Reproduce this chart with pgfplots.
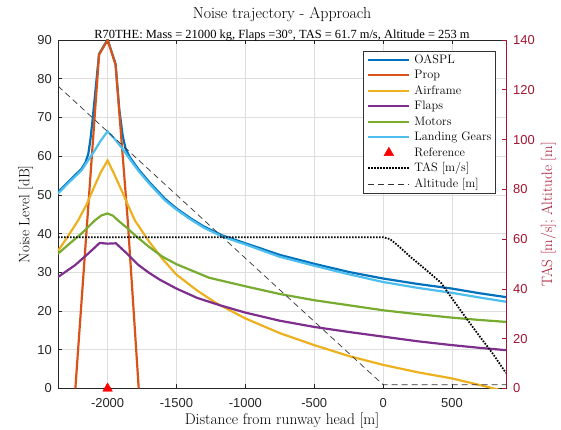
\documentclass[border=0pt]{standalone}
\usepackage{fontspec}
\setsansfont{Liberation Sans}
\newfontfamily\subfont{Liberation Serif}
\usepackage{pgfplots}
\pgfplotsset{compat=1.18}

\definecolor{mblue}{rgb}{0,0.447,0.741}
\definecolor{morange}{rgb}{0.850,0.325,0.098}
\definecolor{myellow}{rgb}{0.929,0.694,0.125}
\definecolor{mpurple}{rgb}{0.494,0.184,0.556}
\definecolor{mgreen}{rgb}{0.466,0.674,0.188}
\definecolor{mcyan}{rgb}{0.301,0.745,0.933}
\definecolor{mred}{rgb}{0.635,0.078,0.184}
\definecolor{axgray}{rgb}{0.15,0.15,0.15}

\pgfplotsset{
  mbase/.style={
    scale only axis, width=448bp, height=348.5bp,
    at={(0bp,0bp)}, anchor=south west,
    xmin=-2360, xmax=892,
    /pgf/number format/assume math mode=true,
    /pgf/number format/1000 sep={},
    tick label style={font=\sffamily\fontsize{13}{15}\selectfont},
    tick align=inside, major tick length=4.5bp,
    label style={font=\fontsize{15}{17}\selectfont},
  },
  curve/.style={line width=2.2bp, #1},
}

\begin{document}
\begin{tikzpicture}
\path[use as bounding box] (-58bp,-41.5bp) rectangle (503bp,388.5bp);

% left axis: noise levels
\begin{axis}[mbase,
  ymin=0, ymax=90, ytick={0,10,...,90},
  xtick={-2000,-1500,...,500}, ytick pos=left,
  grid=major, grid style={black!13, line width=0.6bp},
  axis line style={draw=axgray, line width=0.8bp},
  every tick/.style={axgray, line width=0.6bp},
  tick label style={axgray},
  yticklabel style={anchor=east, inner sep=0pt, xshift=-6bp},
  xticklabel style={anchor=north, inner sep=0pt, yshift=-9.5bp},
  xlabel={Distance from runway head [m]},
  xlabel style={at={(axis description cs:0.5,-0.1027)}, anchor=base,
    font=\fontsize{15.5}{17}\selectfont},
  ylabel={Noise Level [dB]},
  ylabel style={at={(axis description cs:-0.064,0.5)}, anchor=base},
]
\addplot[curve=mblue] coordinates {
 (-2360,50.7) (-2290,53.2) (-2190,56.7) (-2160,58.4) (-2140,60.6) (-2125,64.2)
 (-2110,69) (-2062,86.4) (-2000,90.1) (-1942,83.8) (-1915,72) (-1890,65.2)
 (-1870,62) (-1840,59.8) (-1778,56.7) (-1700,53.4) (-1584,49) (-1500,46.5)
 (-1400,44) (-1300,41.8) (-1165,39.5) (-1000,37.5) (-750,34.5) (-500,32.2)
 (-250,30.1) (0,28.4) (250,27) (500,25.8) (700,24.6) (892,23.6)};
\addplot[curve=morange] coordinates {
 (-2234,0) (-2062,86.2) (-2000,90) (-1942,83.6) (-1855,44) (-1774,0)};
\addplot[curve=myellow] coordinates {
 (-2360,35.5) (-2290,39.2) (-2214,43.4) (-2150,47.7) (-2093,52.4) (-2050,55.8)
 (-2000,58.9) (-1950,55.2) (-1899,51.2) (-1850,47.2) (-1802,43.4) (-1700,38)
 (-1600,33.4) (-1500,29.4) (-1350,25.3) (-1209,22) (-1000,18.1) (-750,14.3)
 (-500,11.2) (-250,8.4) (0,6.1) (250,4.2) (500,2.6) (748,0.5) (892,-0.8)};
\addplot[curve=mpurple] coordinates {
 (-2360,28.8) (-2238,31.8) (-2142,34.8) (-2057,37.6) (-2000,37.4) (-1940,37.5)
 (-1870,35.2) (-1780,32) (-1700,29.9) (-1621,28.1) (-1500,25.8) (-1350,23.4)
 (-1185,21.5) (-1000,19.6) (-750,17.5) (-500,15.9) (-250,14.6) (0,13.4)
 (250,12.2) (500,11.2) (700,10.5) (892,9.9)};
\addplot[curve=mgreen] coordinates {
 (-2360,34.8) (-2280,37.3) (-2190,40) (-2093,43.4) (-2045,44.7) (-2000,45.2)
 (-1960,44.6) (-1924,43.4) (-1860,41.5) (-1802,39.6) (-1700,36.6) (-1600,34)
 (-1500,32.1) (-1263,28.6) (-1000,26.4) (-750,24.4) (-500,22.8) (-250,21.5)
 (0,20.2) (250,19.2) (500,18.3) (700,17.7) (892,17.2)};
\addplot[curve=mcyan] coordinates {
 (-2360,50.3) (-2290,52.9) (-2190,56.3) (-2093,61.5) (-2050,64) (-2000,66.4)
 (-1950,64.5) (-1900,62.3) (-1840,59.3) (-1778,56.3) (-1700,53) (-1584,48.6)
 (-1500,46.2) (-1400,43.7) (-1300,41.5) (-1165,39.2) (-1000,37.2) (-750,34)
 (-500,31.7) (-250,29.5) (0,27.5) (250,26) (500,24.7) (700,23.5) (892,22.4)};
\addplot[only marks, mark=triangle*, mark size=5.6bp, red,
  mark options={fill=red, draw=red}] coordinates {(-2000,0)};
\end{axis}

% right axis: speed and altitude
\begin{axis}[mbase,
  ymin=0, ymax=140, ytick={0,20,...,140},
  axis x line=none, axis y line*=right,
  y axis line style={draw=mred, line width=0.8bp},
  ytick style={mred, line width=0.6bp},
  yticklabel style={mred, anchor=west, inner sep=0pt, xshift=7bp},
  ylabel={TAS [m/s]; Altitude [m]},
  ylabel style={mred, at={(axis description cs:1.1027,0.5)}, anchor=base},
  legend image code/.code={\draw[mark repeat=2, mark phase=2, #1]
    plot coordinates {(0bp,0bp) (20.5bp,0bp) (41bp,0bp)};},
  legend cell align=left,
  legend style={at={(axis description cs:1,1)}, anchor=north east,
    xshift=-10.3bp, yshift=-10.7bp, draw=black!80, line width=0.5bp,
    fill=white, font=\fontsize{12.3}{14}\selectfont,
    inner xsep=4bp, inner ysep=1.2bp, row sep=0pt,
    nodes={inner sep=0pt, text height=11bp, text depth=4.5bp},
    /tikz/every odd column/.append style={column sep=4bp}},
]
\addlegendimage{curve=mblue}
\addlegendentry{OASPL}
\addlegendimage{curve=morange}
\addlegendentry{Prop}
\addlegendimage{curve=myellow}
\addlegendentry{Airframe}
\addlegendimage{curve=mpurple}
\addlegendentry{Flaps}
\addlegendimage{curve=mgreen}
\addlegendentry{Motors}
\addlegendimage{curve=mcyan}
\addlegendentry{Landing Gears}
\addlegendimage{only marks, mark=triangle*, mark size=5.6bp, red, mark options={fill=red, draw=red}}
\addlegendentry{Reference}
\addplot[black, line width=1.8bp, dash pattern=on 1.6bp off 1.4bp] coordinates {
 (-2360,60.8) (0,60.8) (50,60) (100,57.8) (200,52.8) (315,47.5) (420,42.5)
 (500,36.2) (600,28.5) (700,21) (800,13.7) (892,6.2)};
\addlegendentry{TAS [m/s]}
\addplot[black!80, line width=0.7bp, dash pattern=on 6bp off 4bp] coordinates {
 (-2360,121.5) (0,1.5) (892,1.5)};
\addlegendentry{Altitude [m]}
\end{axis}

\node[anchor=base, font=\fontsize{16}{18}\selectfont] at (224bp,369.8bp)
  {Noise trajectory - Approach};
\node[anchor=base, font=\subfont\fontsize{12.5}{14}\selectfont] at (224bp,349.7bp)
  {R70THE: Mass = 21000 kg, Flaps =30°, TAS = 61.7 m/s, Altitude = 253 m};
\end{tikzpicture}
\end{document}
